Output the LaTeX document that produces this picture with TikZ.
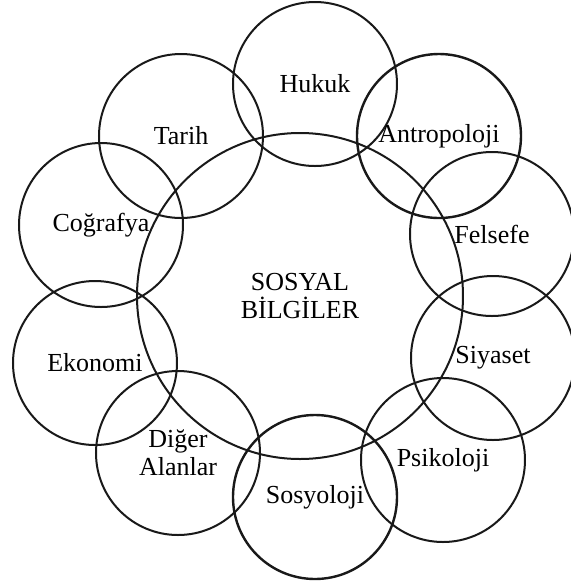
\documentclass[tikz,border=0pt]{standalone}
\usepackage{fontspec}
\setmainfont{Liberation Serif}
\usepackage{tikz}

\begin{document}
\begin{tikzpicture}[
                x=0.5pt, y=-0.5pt,
                font=\fontsize{13}{14}\selectfont,
                area/.style={circle, draw=black!90, line width=1pt, minimum size=82pt, inner sep=0pt, align=center},
                core/.style={circle, draw=black!90, line width=1pt, minimum size=163pt, inner sep=0pt, align=center},
            ]
            \useasboundingbox (0,0) rectangle (570,586);
            \node[core] (sosyal) at (300,296) {SOSYAL\\BİLGİLER};
            \node[area] (hukuk) at (315,84) {Hukuk};
            \node[area] (tarih) at (181,136) {Tarih};
            \node[area, line width=1.2pt] (antro) at (439,136) {Antropoloji};
            \node[area] (cografya) at (101,225) {Coğrafya};
            \node[area] (felsefe) at (492,234) {Felsefe};
            \node[area] (ekonomi) at (95,363) {Ekonomi};
            \node[area] (siyaset) at (493,358) {Siyaset};
            \node[area] (diger) at (178,453) {Diğer\\Alanlar};
            \node[area] (psikoloji) at (443,460) {Psikoloji};
            \node[area, line width=1.2pt] (sosyoloji) at (315,497) {Sosyoloji};
        \end{tikzpicture}
\end{document}
